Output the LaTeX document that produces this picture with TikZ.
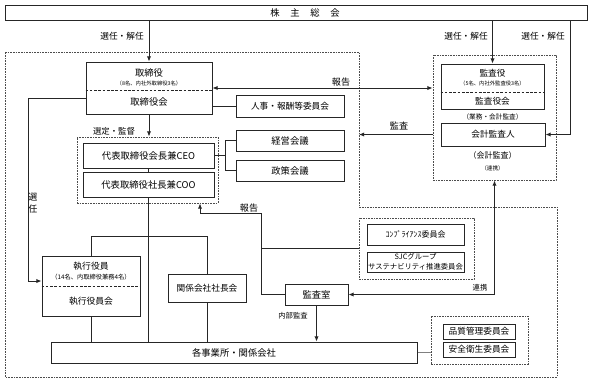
\documentclass[tikz,border=0pt]{standalone}
\usepackage{fontspec}
\setmainfont{Noto Sans CJK JP}
\usetikzlibrary{arrows.meta,fit,calc}
\newcommand\jfs[1]{\fontsize{#1}{#1}\selectfont}
\begin{document}
\begin{tikzpicture}[x=0.75pt,y=-0.75pt,
  box/.style={draw=black!85, line width=0.75pt, fill=white, inner sep=0pt},
  grp/.style={draw=gray!60!black, line width=0.75pt, dash pattern=on 1.2pt off 0.8pt, inner sep=0pt},
  div/.style={draw=black!85, line width=0.6pt, dash pattern=on 2pt off 1.2pt},
  ln/.style={draw=black!85, line width=0.7pt},
  arr/.style={ln, -{Latex[length=3.8pt,width=3.2pt]}},
  darr/.style={ln, {Latex[length=3.8pt,width=3.2pt]}-{Latex[length=3.8pt,width=3.2pt]}},
  lbl/.style={inner sep=0pt}]
\fill[white] (0,0) rectangle (593,383);
\useasboundingbox (0,0) rectangle (593,383);

% L-shaped region
\coordinate (L0) at (5,52);
\coordinate (L1) at (359,52);
\coordinate (L2) at (359,207);
\coordinate (L3) at (557,207);
\coordinate (L4) at (557,377);
\coordinate (L5) at (5,377);
\draw[grp] (L0) -- (L1) -- (L2) -- (L3) -- (L4) -- (L5) -- cycle;

% groups
\node[grp, fit={(433,55) (556,180)}] (kgrp) {};
\node[grp, fit={(77,137) (218,203)}] (ceogrp) {};
\node[grp, fit={(359,218) (474,279)}] (compgrp) {};
\node[grp, fit={(431,316) (528,364)}] (qgrp) {};

% top
\node[box, fit={(5,5) (587,20)}] (kabu) {};
\node[lbl, font=\jfs{7}] (kabuT) at (305,12.5) {株\hspace{8pt}主\hspace{8pt}総\hspace{8pt}会};

% directors
\node[box, fit={(86,62) (212,114)}] (tor) {};
\draw[div] (tor.west |- 0,90) -- (tor.east |- 0,90);
\node[lbl, font=\jfs{7}] (torA) at (149,73) {取締役};
\node[lbl, font=\jfs{4}] (torB) at (149,83) {（8名、内社外取締役3名）};
\node[lbl, font=\jfs{7}] (torC) at (149,102) {取締役会};

% auditors
\node[box, fit={(441,64) (544,109)}] (kan) {};
\draw[div] (kan.west |- 0,92) -- (kan.east |- 0,92);
\node[lbl, font=\jfs{6.5}] (kanA) at (492.5,73) {監査役};
\node[lbl, font=\jfs{4}] (kanB) at (492.5,83) {（5名、内社外監査役3名）};
\node[lbl, font=\jfs{6.5}] (kanC) at (492.5,101) {監査役会};
\node[lbl, font=\jfs{5}] (gyomu) at (492.5,117) {（業務・会計監査）};
\node[box, fit={(441,123) (545,146)}] (kaikei) {};
\node[lbl, font=\jfs{6.5}] (kaikeiN) at (kaikei.center) {会計監査人};
\node[lbl, font=\jfs{6}] (kaikeiT) at (492.5,155.5) {（会計監査）};
\node[lbl, font=\jfs{4.2}] (renkeiT) at (492.5,168) {（連携）};

% committees
\node[box, fit={(236,95) (344,117)}] (jinji) {};
\node[lbl, font=\jfs{6.5}] (jinjiN) at (jinji.center) {人事・報酬等委員会};
\node[box, fit={(83,143) (214,168)}] (ceo) {};
\node[lbl, font=\jfs{7}] (ceoN) at (ceo.center) {代表取締役会長兼CEO};
\node[box, fit={(83,172) (214,197)}] (coo) {};
\node[lbl, font=\jfs{7}] (cooN) at (coo.center) {代表取締役社長兼COO};
\node[box, fit={(236,130) (344,151)}] (keiei) {};
\node[lbl, font=\jfs{7}] (keieiN) at (keiei.center) {経営会議};
\node[box, fit={(236,160) (344,181)}] (seisaku) {};
\node[lbl, font=\jfs{7}] (seisakuN) at (seisaku.center) {政策会議};
\node[box, fit={(367,224) (464,245)}] (comp) {};
\node[lbl, font=\jfs{6}] (compN) at (comp.center) {ｺﾝﾌﾟﾗｲｱﾝｽ委員会};
\node[box, fit={(367,252) (464,272)}] (sjc) {};
\node[lbl, font=\jfs{5.5}] (sjcA) at (415.5,256.5) {SJCグループ};
\node[lbl, font=\jfs{5.5}] (sjcB) at (415.5,267) {サステナビリティ推進委員会};

% executive officers
\node[box, fit={(42,256) (140,316)}] (shikko) {};
\draw[div] (shikko.west |- 0,286) -- (shikko.east |- 0,286);
\node[lbl, font=\jfs{6.6}] (shA) at (91,266) {執行役員};
\node[lbl, font=\jfs{4.7}] (shB) at (91,277) {（14名、内取締役兼務4名）};
\node[lbl, font=\jfs{6.6}] (shC) at (91,301) {執行役員会};

\node[box, fit={(168,274) (246,302)}] (kankei) {};
\node[lbl, font=\jfs{6.5}] (kankeiN) at (kankei.center) {関係会社社長会};
\node[box, fit={(285,284) (348,305)}] (kansa) {};
\node[lbl, font=\jfs{7}] (kansaN) at (kansa.center) {監査室};
\node[box, fit={(51,342) (417,363)}] (kaku) {};
\node[lbl, font=\jfs{7}] (kakuN) at (kaku.center) {各事業所・関係会社};
\node[box, fit={(443,324) (515,339)}] (hinshitsu) {};
\node[lbl, font=\jfs{6.5}] (hinshitsuN) at (hinshitsu.center) {品質管理委員会};
\node[box, fit={(443,342) (515,357)}] (anzen) {};
\node[lbl, font=\jfs{6.5}] (anzenN) at (anzen.center) {安全衛生委員会};

% helper coordinates
\coordinate (c570) at (570,0);
\coordinate (c28) at (28,98);
\coordinate (j1) at (148,236);
\coordinate (r1) at (261,213);
\coordinate (r2) at (200,213);

% connectors
\draw[arr] (kabu.south -| tor.north) -- (tor.north);
\draw[arr] (kabu.south -| kan.north) -- (kan.north);
\draw[arr] (kabu.south -| c570) |- (kaikei.east);
\draw[darr] (tor.east) -- (tor.east -| kgrp.west);
\draw[ln] (jinji.west -| tor.east) -- (jinji.west);
\draw[arr] (tor.south) -- (tor.south |- ceogrp.north);
\draw[ln] (ceo.south) -- (coo.north);
\draw[ln] (ceo.east) -- ++(11,0) coordinate (br);
\draw[ln] (keiei.west) -| (br) |- (seisaku.west);
\draw[arr] (kgrp.west |- kaikei.west) -- (kaikei.west -| L1);
\draw[arr] (c28 -| tor.west) -- (c28) |- ([yshift=3.75pt]shikko.west);
\draw[ln] (coo.south) -- (coo.south |- kaku.north);
\draw[ln] (shikko.north |- j1) -- (kankei.north |- j1);
\draw[ln] (shikko.north |- j1) -- (shikko.north);
\draw[ln] (kankei.north |- j1) -- (kankei.north);
\draw[ln] (shikko.south) -- (shikko.south |- kaku.north);
\draw[ln] (kankei.south) -- (kankei.south |- kaku.north);
\draw[arr] (kansa.west) -| (r1) -- (r2) -- (r2 |- ceogrp.south);
\draw[ln] (compgrp.west) -- (compgrp.west -| r1);
\draw[darr] (kansa.east) -| (kgrp.south);
\draw[arr] (kansa.south) -- (kansa.south |- kaku.north);
\draw[ln, draw=gray] (kaku.east) -- (kaku.east -| qgrp.west);

% labels
\node[lbl, font=\jfs{6.5}] (l1) at (122,36) {選任・解任};
\node[lbl, font=\jfs{6.5}] (l2) at (466,36) {選任・解任};
\node[lbl, font=\jfs{6.5}] (l3) at (543,36) {選任・解任};
\node[lbl, font=\jfs{6.8}] (l4) at (341,82) {報告};
\node[lbl, font=\jfs{6.3}] (l5) at (114,131) {選定・監督};
\node[lbl, font=\jfs{6.8}] (l6) at (399,126) {監査};
\node[lbl, font={\fontsize{6.8}{9}\selectfont}, align=center] (l7) at (33,203) {選\\任};
\node[lbl, font=\jfs{6.8}] (l8) at (249,208) {報告};
\node[lbl, font=\jfs{5.5}] (l9) at (480,288) {連携};
\node[lbl, font=\jfs{5.5}] (l10) at (293,316) {内部監査};
\end{tikzpicture}
\end{document}
